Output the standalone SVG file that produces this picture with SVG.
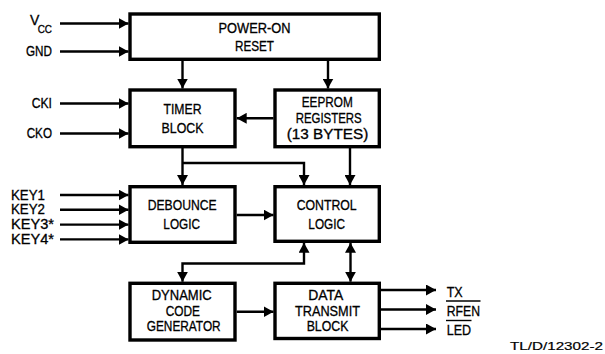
<svg xmlns="http://www.w3.org/2000/svg" width="605" height="354" viewBox="0 0 605 354">
<style>
.box{fill:#fff;stroke:#000;stroke-width:3.4}
.c{fill:none;stroke:#000;stroke-width:2.4}
.a{marker-end:url(#ah)}
.b{marker-start:url(#ah);marker-end:url(#ah)}
text{font-family:"Liberation Sans",Arial,sans-serif;font-size:14px;fill:#000;stroke:#000;stroke-width:0.3}
.m{text-anchor:middle}
.e{text-anchor:end}
.ol{stroke:#000;stroke-width:1.4}
</style>
<defs>
<marker id="ah" markerUnits="userSpaceOnUse" markerWidth="10" markerHeight="11" refX="10" refY="5.5" orient="auto-start-reverse" viewBox="0 0 10 11">
<path d="M0,0 L10,5.5 L0,11 z" fill="#000"/>
</marker>
</defs>
<g id="connectors">
<path class="c a" d="M60,23.5 H128.5"/>
<path class="c a" d="M60,51.5 H128.5"/>
<path class="c a" d="M60,103.5 H128.5"/>
<path class="c a" d="M60,133.5 H128.5"/>
<path class="c a" d="M182.5,60 V88.5"/>
<path class="c a" d="M328,60 V88.5"/>
<path class="c a" d="M273.5,118.3 H236.7"/>
<path class="c a" d="M182.5,147 V185"/>
<path class="c a" d="M182.5,163 H304 V185"/>
<path class="c a" d="M350,147 V185"/>
<path class="c a" d="M60,195 H128.5"/>
<path class="c a" d="M60,209.8 H128.5"/>
<path class="c a" d="M60,224.6 H128.5"/>
<path class="c a" d="M60,239.4 H128.5"/>
<path class="c a" d="M236.7,215 H273.5"/>
<path class="c b" d="M304,242.8 V263.5 H182.5 V281.7"/>
<path class="c b" d="M350.5,242.8 V281.7"/>
<path class="c a" d="M236.7,311.8 H273.5"/>
<path class="c a" d="M380.5,290 H436"/>
<path class="c a" d="M380.5,309.5 H436"/>
<path class="c a" d="M380.5,329 H436"/>
</g>
<g id="por">
<rect class="box" x="130" y="14" width="249.3" height="45.3"/>
<text class="m" x="254.5" y="32.5" textLength="72" lengthAdjust="spacingAndGlyphs">POWER-ON</text>
<text class="m" x="254.5" y="51" textLength="39" lengthAdjust="spacingAndGlyphs">RESET</text>
</g>
<g id="timer">
<rect class="box" x="130" y="90" width="105" height="56.7"/>
<text class="m" x="182.5" y="114" textLength="38" lengthAdjust="spacingAndGlyphs">TIMER</text>
<text class="m" x="182.5" y="132.7" textLength="42" lengthAdjust="spacingAndGlyphs">BLOCK</text>
</g>
<g id="eeprom">
<rect class="box" x="275" y="90" width="104.3" height="56.7"/>
<text class="m" x="327.2" y="107.3" textLength="51" lengthAdjust="spacingAndGlyphs">EEPROM</text>
<text class="m" x="328.7" y="123.3" textLength="66" lengthAdjust="spacingAndGlyphs">REGISTERS</text>
<text class="m" x="327.5" y="138.5" textLength="81.5" lengthAdjust="spacingAndGlyphs">(13 BYTES)</text>
</g>
<g id="debounce">
<rect class="box" x="130" y="186.7" width="105" height="55.6"/>
<text class="m" x="182.2" y="210" textLength="69" lengthAdjust="spacingAndGlyphs">DEBOUNCE</text>
<text class="m" x="181.7" y="229.3" textLength="36.7" lengthAdjust="spacingAndGlyphs">LOGIC</text>
</g>
<g id="control">
<rect class="box" x="275" y="186.7" width="104.3" height="54.6"/>
<text class="m" x="326.7" y="210" textLength="60" lengthAdjust="spacingAndGlyphs">CONTROL</text>
<text class="m" x="326.7" y="229" textLength="36.7" lengthAdjust="spacingAndGlyphs">LOGIC</text>
</g>
<g id="dynamic">
<rect class="box" x="130" y="283.3" width="105" height="56.7"/>
<text class="m" x="181.7" y="300" textLength="60" lengthAdjust="spacingAndGlyphs">DYNAMIC</text>
<text class="m" x="182.8" y="315.7" textLength="34.3" lengthAdjust="spacingAndGlyphs">CODE</text>
<text class="m" x="183.7" y="331" textLength="74" lengthAdjust="spacingAndGlyphs">GENERATOR</text>
</g>
<g id="datatx">
<rect class="box" x="275" y="283.3" width="104.3" height="55.2"/>
<text class="m" x="325.8" y="300" textLength="35" lengthAdjust="spacingAndGlyphs">DATA</text>
<text class="m" x="327.5" y="315.7" textLength="65" lengthAdjust="spacingAndGlyphs">TRANSMIT</text>
<text class="m" x="327.5" y="331" textLength="41.7" lengthAdjust="spacingAndGlyphs">BLOCK</text>
</g>
<g id="inputs">
<text x="30" y="25">V</text>
<text x="37.7" y="32.5" style="font-size:11px" textLength="14.3" lengthAdjust="spacingAndGlyphs">CC</text>
<text class="e" x="52" y="56" textLength="26" lengthAdjust="spacingAndGlyphs">GND</text>
<text class="e" x="52" y="108" textLength="20.3" lengthAdjust="spacingAndGlyphs">CKI</text>
<text class="e" x="52" y="138" textLength="25.3" lengthAdjust="spacingAndGlyphs">CKO</text>
<text x="11" y="199.5" textLength="34" lengthAdjust="spacingAndGlyphs">KEY1</text>
<text x="11" y="214.3" textLength="34" lengthAdjust="spacingAndGlyphs">KEY2</text>
<text x="11" y="229.1" textLength="43" lengthAdjust="spacingAndGlyphs">KEY3*</text>
<text x="11" y="243.9" textLength="43" lengthAdjust="spacingAndGlyphs">KEY4*</text>
</g>
<g id="outputs">
<text x="446.7" y="296.5" textLength="16" lengthAdjust="spacingAndGlyphs">TX</text>
<text x="446.7" y="315.5" textLength="33.3" lengthAdjust="spacingAndGlyphs">RFEN</text>
<line class="ol" x1="446" y1="301" x2="480.5" y2="301"/>
<text x="446.7" y="335" textLength="24.3" lengthAdjust="spacingAndGlyphs">LED</text>
<line class="ol" x1="446" y1="320.5" x2="471.5" y2="320.5"/>
</g>
<text x="510" y="350" style="font-size:11.5px;stroke-width:0.2" textLength="93" lengthAdjust="spacingAndGlyphs">TL/D/12302-2</text>
</svg>
